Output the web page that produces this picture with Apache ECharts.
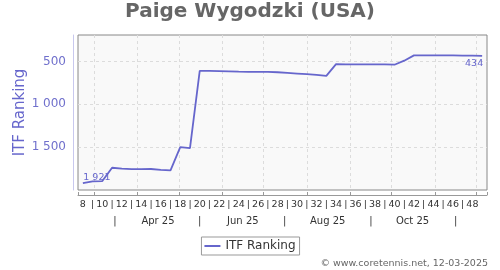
<!DOCTYPE html>
<html><head><meta charset="utf-8">
<script src="https://cdn.jsdelivr.net/npm/echarts@6.0.0/dist/echarts.min.js"></script>
<style>html,body{margin:0;padding:0;background:#fff}#c{width:500px;height:270px}</style>
</head><body><div id="c"></div>
<script>
const titleText = 'Paige Wygodzki (USA)';
const seriesName = 'ITF Ranking';
const creditText = '© www.coretennis.net, 12-03-2025';
const weeks = [8,9,10,11,12,13,14,15,16,17,18,19,20,21,22,23,24,25,26,27,28,29,30,31,32,33,34,35,36,37,38,39,40,41,42,43,44,45,46,47,48,49];
const ranking = [1921,1900,1896,1740,1750,1757,1757,1755,1765,1770,1500,1512,609,610,612,615,618,620,620,620,625,632,640,648,656,667,530,532,533,534,533,533,537,490,428,427,427,428,429,430,431,434];
const firstWeekDate = '2025-02-21';
const monthNames = ['Jan','Feb','Mar','Apr','May','Jun','Jul','Aug','Sep','Oct','Nov','Dec'];
const labeledMonths = [3,5,7,9];
const separatorMonths = [2,4,6,8,10];

const DAY = 86400000, WEEK = 7 * DAY;
const t0 = Date.parse(firstWeekDate + 'T00:00:00Z');
const tMin = t0 - 0.5 * WEEK;
const tMax = t0 + (weeks.length - 0.5) * WEEK;
const halfMonth = 15 * DAY;

const color = '#6666cc';
const fmtNum = v => { const s = String(Math.round(v)); return s.length > 3 ? s.slice(0, s.length - 3) + ' ' + s.slice(-3) : s; };

const last = ranking.length - 1;
const seriesData = ranking.map((v, i) => {
  if (i === 0) return { value: v, label: { show: true, position: 'top', offset: [14, 4] } };
  if (i === last) return { value: v, label: { show: true, position: 'bottom', offset: [-8, -2] } };
  return v;
});

const chart = echarts.init(document.getElementById('c'), null, { renderer: 'canvas' });
chart.setOption({
  animation: false,
  useUTC: true,
  textStyle: { fontFamily: 'DejaVu Sans' },
  title: [
    { text: titleText, left: 'center', top: 2, padding: 0,
      textStyle: { fontSize: 20, fontWeight: 'bold', color: '#666', fontFamily: 'DejaVu Sans' } },
    { text: creditText, right: 12, top: 259, padding: 0,
      textStyle: { fontSize: 9.5, fontWeight: 'normal', color: '#666', fontFamily: 'DejaVu Sans' } }
  ],
  legend: {
    data: [seriesName], left: 'center', top: 237, padding: [3, 4, 3, 3],
    borderColor: '#999', borderWidth: 1, icon: 'rect', itemWidth: 16, itemHeight: 2,
    textStyle: { fontSize: 12, color: '#333' }
  },
  grid: { left: 78, top: 35, width: 409, height: 155, show: true,
    backgroundColor: '#f9f9f9', borderColor: '#888', borderWidth: 1 },
  xAxis: [
    { type: 'category', position: 'bottom', data: weeks, boundaryGap: true, offset: 5,
      axisLine: { show: true, lineStyle: { color: '#999', width: 1 } },
      axisTick: { show: false }, splitLine: { show: false },
      axisLabel: { interval: 0, margin: 5, fontSize: 9.5, color: '#333',
        formatter: (v, i) => (Number(v) % 2 === 0 ? String(v) : (i === weeks.length - 1 ? '' : '|')) } },
    { type: 'time', position: 'bottom', min: tMin, max: tMax, splitNumber: 10, offset: 5,
      axisLine: { show: false }, axisLabel: { show: false },
      axisTick: { show: true, inside: true, length: 3, lineStyle: { color: '#999' } },
      splitLine: { show: true, showMinLine: false, showMaxLine: false, lineStyle: { color: '#dcdcdc', type: [3, 3] } } },
    { type: 'time', position: 'bottom', min: tMin - halfMonth, max: tMax - halfMonth, splitNumber: 10, offset: 5,
      axisLine: { show: false }, axisTick: { show: false }, splitLine: { show: false },
      axisLabel: { margin: 21, fontSize: 10, color: '#333',
        formatter: (v) => {
          const d = new Date(v);
          if (d.getUTCDate() !== 1 || d.getUTCHours() !== 0) return '';
          const m = d.getUTCMonth();
          if (labeledMonths.includes(m)) return monthNames[m] + ' ' + String(d.getUTCFullYear()).slice(2);
          if (separatorMonths.includes(m)) return '|';
          return '';
        } } }
  ],
  yAxis: {
    type: 'value', inverse: true, min: 190, max: 2000, splitNumber: 4, offset: 5,
    name: seriesName, nameLocation: 'middle', nameGap: 45, nameMoveOverlap: false,
    nameTextStyle: { fontSize: 15, color: color },
    axisLine: { show: true, lineStyle: { color: '#c8c8ee' } },
    axisTick: { show: false },
    axisLabel: { margin: 7, fontSize: 12, color: '#7070cc', showMinLabel: false, showMaxLabel: false, formatter: fmtNum },
    splitLine: { show: true, showMinLine: false, showMaxLine: false, lineStyle: { color: '#dcdcdc', type: [3, 3] } }
  },
  series: [{
    type: 'line', name: seriesName, xAxisIndex: 0, yAxisIndex: 0,
    data: seriesData, symbol: 'circle', symbolSize: 0, showSymbol: true,
    lineStyle: { color: color, width: 1.8 }, itemStyle: { color: color },
    label: { show: false, fontSize: 9.5, color: color, formatter: (p) => fmtNum(p.value) }
  }]
});
</script>
</body></html>
